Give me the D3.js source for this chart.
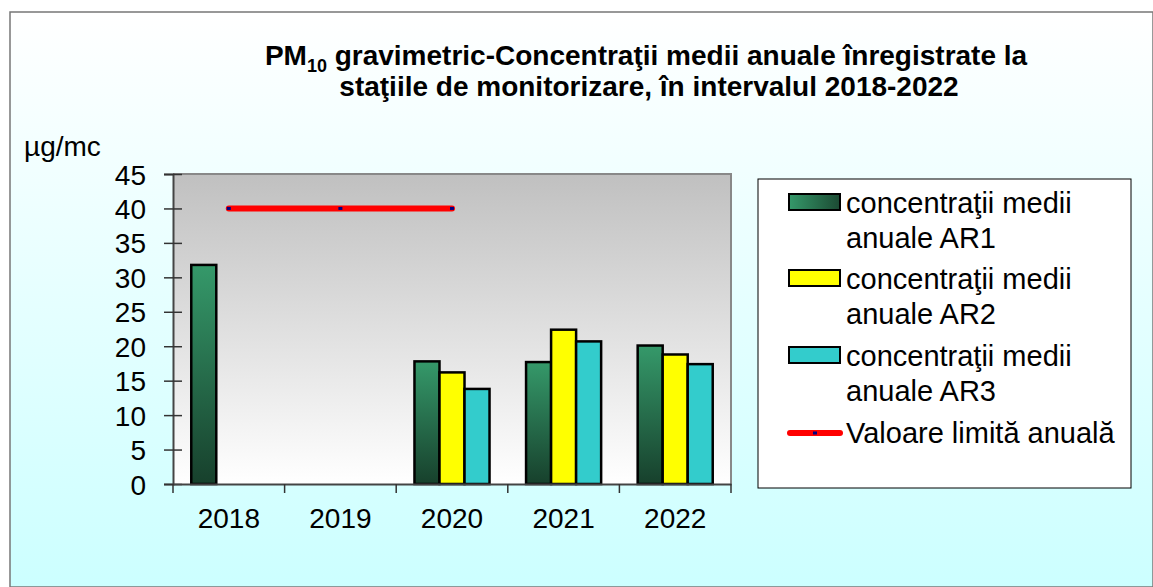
<!DOCTYPE html>
<html>
<head>
<meta charset="utf-8">
<script src="https://cdn.jsdelivr.net/npm/d3@7"></script>
<style>
  body { margin: 0; background: #fff; }
  svg { display: block; font-family: Arial, "Liberation Sans", sans-serif; }
</style>
</head>
<body>
<div class="container"></div>
<script>
// Data
const years = ["2018", "2019", "2020", "2021", "2022"];
const ar1 = [31.8, null, 17.8, 17.7, 20.1];
const ar2 = [null, null, 16.2, 22.4, 18.8];
const ar3 = [null, null, 13.8, 20.7, 17.4];
const limitName = "Valoare limită anuală";
const limitValues = [40, 40, 40, null, null];
const yTicks = [0, 5, 10, 15, 20, 25, 30, 35, 40, 45];
const legendLines = [
  ["concentraţii medii", "anuale AR1"],
  ["concentraţii medii", "anuale AR2"],
  ["concentraţii medii", "anuale AR3"]
];

// Dimensions
const w = 1153;
const h = 587;
const plot = {left: 173, right: 731, top: 174, bottom: 484};

const svg = d3.select(".container")
  .append("svg")
  .attr("width", w)
  .attr("height", h);

const defs = svg.append("defs");

// background gradient (white -> light cyan)
const bg = defs.append("linearGradient").attr("id", "bg").attr("x1", 0).attr("y1", 0).attr("x2", 0).attr("y2", 1);
bg.append("stop").attr("offset", "0%").attr("stop-color", "#ffffff");
bg.append("stop").attr("offset", "100%").attr("stop-color", "#ccffff");

// plot area gradient (gray -> white)
const pg = defs.append("linearGradient").attr("id", "pg").attr("x1", 0).attr("y1", 0).attr("x2", 0).attr("y2", 1);
pg.append("stop").attr("offset", "0%").attr("stop-color", "#c0c0c0");
pg.append("stop").attr("offset", "100%").attr("stop-color", "#ffffff");

// AR1 bar gradient
const gg = defs.append("linearGradient").attr("id", "gg").attr("x1", 0).attr("y1", 0).attr("x2", 0).attr("y2", 1);
gg.append("stop").attr("offset", "0%").attr("stop-color", "#35996a");
gg.append("stop").attr("offset", "100%").attr("stop-color", "#17402c");

const gl = defs.append("linearGradient").attr("id", "gl").attr("x1", 0).attr("y1", 0).attr("x2", 1).attr("y2", 0);
gl.append("stop").attr("offset", "0%").attr("stop-color", "#35996a");
gl.append("stop").attr("offset", "100%").attr("stop-color", "#1c4a33");

svg.append("rect").attr("width", w).attr("height", h).attr("fill", "#fff");
svg.append("rect")
  .attr("x", 10).attr("y", 12)
  .attr("width", w - 10).attr("height", h - 12)
  .attr("fill", "url(#bg)")
  .attr("stroke", "#777").attr("stroke-width", 1.5);

// Title
const title = svg.append("text")
  .attr("x", 646).attr("y", 65)
  .attr("text-anchor", "middle")
  .style("font-size", "28px").style("font-weight", "bold");
title.append("tspan").text("PM");
title.append("tspan").attr("dy", 7).style("font-size", "18px").text("10");
title.append("tspan").attr("dy", -7).text(" gravimetric-Concentraţii medii anuale înregistrate la");
svg.append("text")
  .attr("x", 649).attr("y", 96)
  .attr("text-anchor", "middle")
  .style("font-size", "28px").style("font-weight", "bold")
  .text("staţiile de monitorizare, în intervalul 2018-2022");

svg.append("text")
  .attr("x", 24).attr("y", 156)
  .style("font-size", "28px")
  .text("µg/mc");

// Scales
const xScale = d3.scaleBand().domain(years).range([plot.left, plot.right]);
const yScale = d3.scaleLinear().domain([0, 45]).range([plot.bottom, plot.top]);
const xSub = d3.scaleBand().domain([0, 1, 2])
  .range([0, xScale.bandwidth()]).paddingOuter(0.73).paddingInner(0);

// Plot area
svg.append("rect")
  .attr("x", plot.left).attr("y", plot.top)
  .attr("width", plot.right - plot.left).attr("height", plot.bottom - plot.top)
  .attr("fill", "url(#pg)");
svg.append("path")
  .attr("d", `M${plot.left},${plot.top}H${plot.right}V${plot.bottom}`)
  .attr("fill", "none").attr("stroke", "#888").attr("stroke-width", 2);

// Bars
const fills = ["url(#gg)", "#ffff00", "#33cccc"];
const series = [ar1, ar2, ar3];
const barData = [];
series.forEach((vals, si) => vals.forEach((v, i) => { if (v != null) barData.push({year: years[i], s: si, v: v}); }));

const bars = svg.append("g").selectAll("rect")
  .data(barData)
  .enter()
  .append("rect")
  .attr("x", d => xScale(d.year) + xSub(d.s))
  .attr("y", d => yScale(d.v))
  .attr("width", xSub.bandwidth())
  .attr("height", d => yScale(0) - yScale(d.v))
  .attr("fill", d => fills[d.s])
  .attr("stroke", "#000").attr("stroke-width", 2.5);

// Axes
const yAxis = d3.axisLeft(yScale).tickValues(yTicks).tickSize(9).tickPadding(18);
const gy = svg.append("g")
  .attr("transform", `translate(${plot.left},0)`)
  .call(yAxis);
gy.selectAll("text").style("font-size", "28px").attr("fill", "#000").attr("dy", "0.36em");
gy.selectAll(".tick line").attr("x1", 9);

const xAxis = d3.axisBottom(xScale).tickSize(0).tickPadding(24);
const gx = svg.append("g")
  .attr("transform", `translate(0,${plot.bottom})`)
  .call(xAxis);
gx.selectAll("text").style("font-size", "28px").attr("fill", "#000");
gx.selectAll(".tick line").remove();
// category boundary ticks
gx.selectAll(".cat-tick")
  .data([...years.map(y => xScale(y)), plot.right])
  .enter()
  .append("line")
  .attr("x1", d => d).attr("x2", d => d)
  .attr("y1", 0).attr("y2", 9)
  .attr("stroke", "#333").attr("stroke-width", 1.5);
[gx, gy].forEach(g => {
  g.select(".domain").attr("stroke", "#444").attr("stroke-width", 2);
  g.selectAll(".tick line").attr("stroke", "#333").attr("stroke-width", 1.5);
});

// Limit line
const limitPts = limitValues.map((v, i) => ({x: xScale(years[i]) + xScale.bandwidth() / 2, v: v})).filter(d => d.v != null);
svg.append("path")
  .datum(limitPts)
  .attr("d", d3.line().x(d => d.x).y(d => yScale(d.v)))
  .attr("fill", "none").attr("stroke", "#ff0000").attr("stroke-width", 6).attr("stroke-linecap", "round");
svg.append("g").selectAll("rect")
  .data(limitPts)
  .enter()
  .append("rect")
  .attr("x", d => d.x - 2).attr("y", d => yScale(d.v) - 1.5)
  .attr("width", 4).attr("height", 3)
  .attr("fill", "#000080");

// Legend
const legend = svg.append("g").attr("id", "legend");
legend.append("rect")
  .attr("x", 758).attr("y", 179)
  .attr("width", 373).attr("height", 309)
  .attr("fill", "#fff").attr("stroke", "#000").attr("stroke-width", 1);

const rowY = [211, 287, 364];
const rowG = legend.selectAll(".legend-label")
  .data(legendLines)
  .enter()
  .append("g")
  .attr("class", "legend-label");
rowG.append("rect")
  .attr("x", 789).attr("y", (d, i) => rowY[i] - 17)
  .attr("width", 51).attr("height", 16)
  .attr("fill", (d, i) => i === 0 ? "url(#gl)" : fills[i])
  .attr("stroke", "#000").attr("stroke-width", 2);
rowG.append("text")
  .attr("x", 846).attr("y", (d, i) => rowY[i] + 2)
  .style("font-size", "29px")
  .selectAll("tspan")
  .data(d => d)
  .enter()
  .append("tspan")
  .attr("x", 846)
  .attr("dy", (d, i) => i === 0 ? 0 : 35)
  .text(d => d);

legend.append("line")
  .attr("x1", 790).attr("x2", 840)
  .attr("y1", 433).attr("y2", 433)
  .attr("stroke", "#ff0000").attr("stroke-width", 6).attr("stroke-linecap", "round");
legend.append("rect")
  .attr("x", 813).attr("y", 431.5).attr("width", 4).attr("height", 3).attr("fill", "#000080");
legend.append("text")
  .attr("x", 846).attr("y", 443)
  .style("font-size", "29px")
  .text(limitName);
</script>
</body>
</html>
